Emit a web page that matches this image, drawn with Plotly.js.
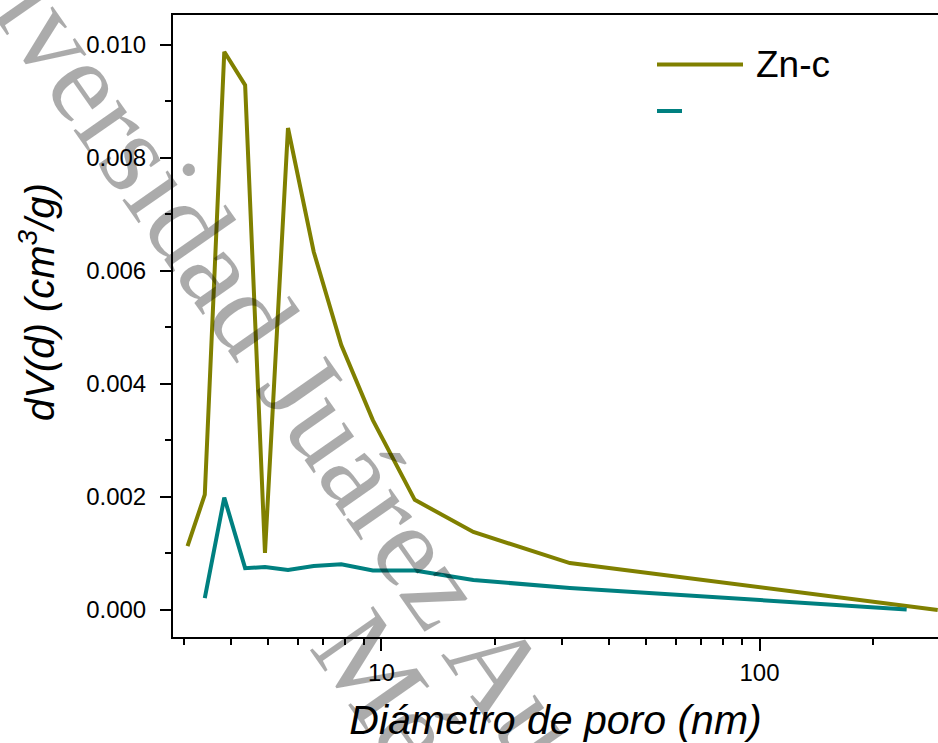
<!DOCTYPE html>
<html>
<head>
<meta charset="utf-8">
<script src="https://cdn.plot.ly/plotly-3.0.1.min.js"></script>
<style>
  html, body { margin: 0; padding: 0; background: #ffffff; }
  #chart { width: 938px; height: 743px; }
</style>
</head>
<body>
<div id="chart"></div>
<script>
// Pore size distribution (BJH-style), log-scaled pore diameter
const diameterZn = [3.07, 3.41, 3.84, 4.36, 4.92, 5.66, 6.62, 7.83, 9.49, 12.25, 17.5, 31.5, 296];
const dVZn      = [0.00113, 0.00204, 0.00988, 0.00929, 0.00101, 0.00853, 0.00634, 0.00469, 0.00336, 0.00195, 0.00138, 0.00083, 0.00000];

const diameterB = [3.41, 3.84, 4.36, 4.92, 5.66, 6.62, 7.83, 9.49, 12.25, 17.5, 31.5, 245];
const dVB       = [0.00021, 0.00199, 0.00074, 0.00076, 0.00071, 0.00078, 0.00081, 0.00070, 0.00070, 0.00053, 0.00039, 0.00001];

const seriesNames  = ["Zn-c", ""];
const seriesColors = ["#808000", "#008080"];

const yTickValues = [0.000, 0.002, 0.004, 0.006, 0.008, 0.010];

const xTitle = "Diámetro de poro (nm)";
const yTitle = "dV(d) (cm<sup>3</sup>/g)";
const watermarkLines = ["Universidad Juárez Autónoma de Tabasco", "México"];

// ---- layout geometry (pixels) ----
const W = 938, H = 743;
const M = { l: 173, r: 0, t: 15, b: 106 };
const PW = W - M.l - M.r, PH = H - M.t - M.b;
const px2paperX = px => (px - M.l) / PW;
const px2paperY = py => (H - M.b - py) / PH;

const traces = [
  { x: diameterZn, y: dVZn, name: seriesNames[0], mode: "lines",
    line: { color: seriesColors[0], width: 4 }, showlegend: false, cliponaxis: true },
  { x: diameterB, y: dVB, name: seriesNames[1], mode: "lines",
    line: { color: seriesColors[1], width: 4 }, showlegend: false, cliponaxis: true }
];

const tickFont = { family: "Liberation Sans, Arial, sans-serif", size: 24, color: "#000" };
const xTitleFont = { family: "Liberation Sans, Arial, sans-serif", size: 41, color: "#000", style: "italic" };
const yTitleFont = { family: "Liberation Sans, Arial, sans-serif", size: 40, color: "#000", style: "italic" };

// hand-drawn key: sample line + label
const legendRows = [
  { y: 64.5, x0: 657, x1: 743, color: seriesColors[0], label: seriesNames[0] },
  { y: 111, x0: 657, x1: 682, color: seriesColors[1], label: seriesNames[1] }
];
const shapes = legendRows.map(r => ({
  type: "line", xref: "paper", yref: "paper",
  x0: px2paperX(r.x0), x1: px2paperX(r.x1), y0: px2paperY(r.y), y1: px2paperY(r.y),
  line: { color: r.color, width: 4 }
}));
const annotations = legendRows.filter(r => r.label).map(r => ({
  xref: "paper", yref: "paper", x: px2paperX(754), y: px2paperY(r.y),
  xanchor: "left", yanchor: "middle", showarrow: false, text: r.label,
  font: { family: "Liberation Sans, Arial, sans-serif", size: 37, color: "#000" }
}));

// vertical axis title, placed beside the tick labels
annotations.push({
  xref: "paper", yref: "paper", x: px2paperX(37), y: px2paperY(302),
  xanchor: "center", yanchor: "middle", showarrow: false,
  text: yTitle, textangle: -90, font: yTitleFont
});

// diagonal institutional watermark
const wmFont = { family: "Liberation Serif, Times New Roman, serif", size: 118, color: "rgba(0,0,0,0.33)" };
annotations.push(
  { xref: "paper", yref: "paper", x: px2paperX(508), y: px2paperY(681), xanchor: "center", yanchor: "middle",
    showarrow: false, text: watermarkLines[0], textangle: 55, font: wmFont },
  { xref: "paper", yref: "paper", x: px2paperX(444), y: px2paperY(772), xanchor: "center", yanchor: "middle",
    showarrow: false, text: watermarkLines[1], textangle: 55, font: wmFont }
);

const layout = {
  width: W, height: H,
  margin: M,
  paper_bgcolor: "#ffffff", plot_bgcolor: "#ffffff",
  showlegend: false,
  xaxis: {
    type: "log",
    range: [Math.log10(2.81), Math.log10(296.5)],
    dtick: 1,
    showgrid: false, zeroline: false,
    showline: true, linecolor: "#000", linewidth: 2, mirror: true,
    ticks: "outside", ticklen: 12, tickwidth: 2, tickcolor: "#000",
    minor: { ticks: "outside", ticklen: 6, tickwidth: 2, tickcolor: "#000", showgrid: false },
    tickfont: tickFont,
    ticklabelstandoff: 1,
    title: { text: xTitle, font: xTitleFont, standoff: 22 }
  },
  yaxis: {
    range: [-0.000478, 0.01053],
    tickvals: yTickValues,
    tickformat: ".3f",
    showgrid: false, zeroline: false,
    showline: true, linecolor: "#000", linewidth: 2, mirror: false,
    ticks: "outside", ticklen: 11, tickwidth: 2, tickcolor: "#000",
    minor: { ticks: "outside", ticklen: 6, tickwidth: 2, tickcolor: "#000", dtick: 0.001, tick0: 0, showgrid: false },
    tickfont: tickFont,
    ticklabelstandoff: 9
  },
  shapes: shapes,
  annotations: annotations
};

Plotly.newPlot("chart", traces, layout, { displayModeBar: false, staticPlot: true });
</script>
</body>
</html>
